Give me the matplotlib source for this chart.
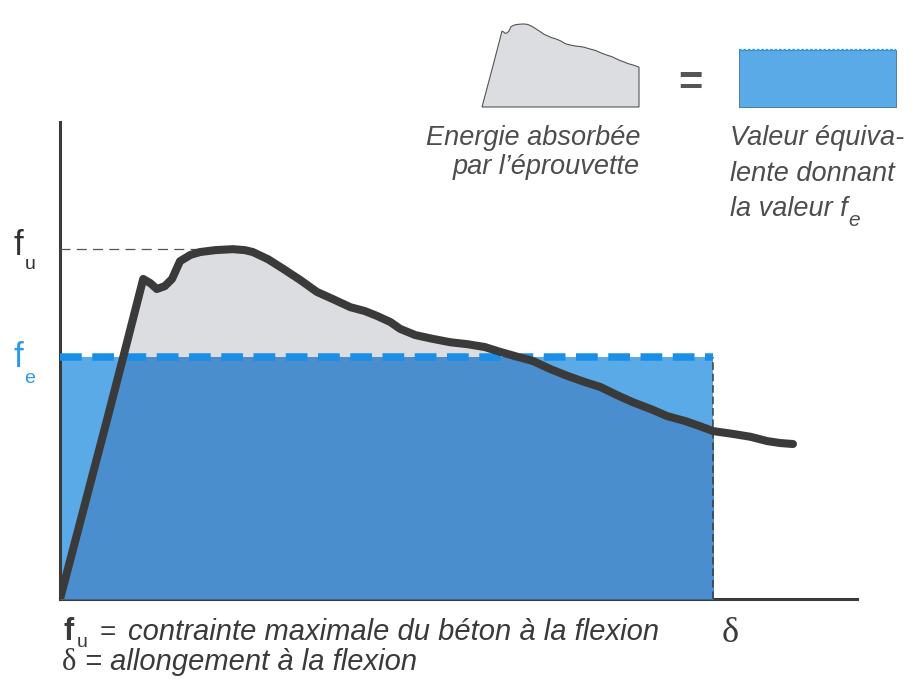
import numpy as np
import matplotlib
matplotlib.use("Agg")
import matplotlib.pyplot as plt
from matplotlib.patches import Rectangle

# courbe charge / fleche (unites arbitraires)
delta = [0.0, 0.59, 0.79, 1.04, 1.13, 1.21, 1.31, 1.40, 1.50, 1.63, 1.75, 1.94,
         2.16, 2.31, 2.41, 2.60, 2.79, 3.00, 3.21, 3.41, 3.63, 3.81, 3.96, 4.13,
         4.25, 4.44, 4.66, 4.88, 5.09, 5.31, 5.50, 5.69, 5.91, 6.13, 6.34, 6.56,
         6.75, 6.96, 7.16, 7.38, 7.59, 7.81, 8.00, 8.16, 8.41, 8.63, 8.84, 9.00, 9.16]
stress = [0.0, 3.75, 5.04, 6.67, 6.58, 6.46, 6.52, 6.67, 7.04, 7.17, 7.23, 7.27,
          7.29, 7.27, 7.23, 7.08, 6.88, 6.65, 6.40, 6.25, 6.08, 6.00, 5.90, 5.77,
          5.63, 5.50, 5.42, 5.35, 5.31, 5.25, 5.15, 5.06, 4.96, 4.79, 4.65, 4.52,
          4.42, 4.25, 4.10, 3.96, 3.81, 3.71, 3.60, 3.50, 3.44, 3.38, 3.29, 3.25, 3.23]
fu = 7.29
fe = 5.04
delta_end = 8.16
fu_line_end = 1.85

W, H = 923, 693
FONT = "Liberation Sans"

delta = np.array(delta)
stress = np.array(stress)
mask = delta <= delta_end

fig = plt.figure(figsize=(W / 100, H / 100), dpi=100)
fig.patch.set_facecolor("white")


def px(x, y):
    return x / W, 1 - y / H


def box(x0, y0, x1, y1):
    # rectangle en pixels (haut-gauche, bas-droite) -> coordonnees figure
    return [x0 / W, 1 - y1 / H, (x1 - x0) / W, (y1 - y0) / H]


gray = "#dcdde1"
blue_light = "#5aaae8"
blue_dark = "#4a8ecd"
blue_dash = "#1b8fe6"
ink = "#3a3a3a"

# --- graphique principal
ax = fig.add_axes(box(60, 122, 857, 599))
ax.set_xlim(0, 9.96)
ax.set_ylim(0, 9.94)
ax.set_facecolor("none")
for s in ["top", "right"]:
    ax.spines[s].set_visible(False)
for s in ["left", "bottom"]:
    ax.spines[s].set_linewidth(2.2)
    ax.spines[s].set_color(ink)
ax.set_xticks([])
ax.set_yticks([])

ax.fill_between(delta[mask], 0, stress[mask], color=gray, lw=0, zorder=1)
rect = Rectangle((0, 0), delta_end, fe, facecolor=blue_light, edgecolor="none", zorder=2)
ax.add_patch(rect)
dark = ax.fill_between(delta, 0, stress, color=blue_dark, lw=0, zorder=3)
dark.set_clip_path(rect)

ax.plot([delta_end, delta_end], [0, fe], color="#3c3c3c", lw=1.1,
        dashes=(5, 2.5), zorder=4)
fe_line, = ax.plot([0, delta_end], [fe, fe], color=blue_dash, lw=5.4,
                   solid_capstyle="butt", zorder=5)
fe_line.set_dashes([2.9, 1.4])
fe_line.set_dash_capstyle("butt")
ax.plot([0, fu_line_end], [fu, fu], color="#555555", lw=0.9, dashes=(8, 5), zorder=4)
ax.plot(delta, stress, color=ink, lw=5.8, solid_joinstyle="round",
        solid_capstyle="round", zorder=6)

# --- labels f_u / f_e
fig.text(*px(13, 255), "f", fontsize=25, family=FONT, color="#333333", va="baseline")
fig.text(*px(25, 269), "u", fontsize=14, family=FONT, color="#333333", va="baseline")
fig.text(*px(13, 367), "f", fontsize=25, family=FONT, color="#2a9be8", va="baseline")
fig.text(*px(24, 383), "e", fontsize=14, family=FONT, color="#2a9be8", va="baseline")

# --- icones en haut
ax_icon = fig.add_axes(box(482, 24, 639, 107))
ax_icon.set_xlim(0, delta_end)
ax_icon.set_ylim(0, fu)
ax_icon.axis("off")
xs = np.concatenate([delta[mask], [delta_end, 0]])
ys = np.concatenate([stress[mask], [0, 0]])
ax_icon.fill(xs, ys, facecolor=gray, edgecolor="#555555", lw=0.8, clip_on=False)

ax_rect = fig.add_axes(box(739, 24, 896, 107))
ax_rect.set_xlim(0, delta_end)
ax_rect.set_ylim(0, fu)
ax_rect.axis("off")
ax_rect.add_patch(Rectangle((0, 0), delta_end, fe, facecolor=blue_light,
                            edgecolor="#3d6f9a", lw=0.6, clip_on=False))
top_line, = ax_rect.plot([0, delta_end], [fe, fe], color="#2a9be8", lw=1.6,
                         clip_on=False)
top_line.set_dashes([1.2, 0.8])

fig.text(*px(690, 95), "=", fontsize=30, family=FONT, fontweight="bold",
         color="#555555", ha="center", va="baseline")

tcol = "#4d4d4d"
tsize = 19.5
fig.text(*px(640, 145), "Energie absorbée", fontsize=tsize, family=FONT,
         style="italic", color=tcol, ha="right", va="baseline")
fig.text(*px(640, 174), "par l\u2019éprouvette", fontsize=tsize, family=FONT,
         style="italic", color=tcol, ha="right", va="baseline")
fig.text(*px(730, 145), "Valeur équiva-", fontsize=tsize, family=FONT,
         style="italic", color=tcol, va="baseline")
fig.text(*px(730, 181), "lente donnant", fontsize=tsize, family=FONT,
         style="italic", color=tcol, va="baseline")
t = fig.text(*px(730, 216), "la valeur f", fontsize=tsize, family=FONT,
             style="italic", color=tcol, va="baseline")
fig.canvas.draw()
x_end = t.get_window_extent().x1
fig.text(x_end / W + 0.001, 1 - 226 / H, "e", fontsize=15, family=FONT,
         style="italic", color=tcol, va="baseline")

# --- legende du bas
fig.text(*px(64, 640), "f", fontsize=22, family=FONT, fontweight="bold",
         color=ink, va="baseline")
fig.text(*px(77, 647), "u", fontsize=14, family=FONT, color=ink, va="baseline")
fig.text(*px(100, 640), "=", fontsize=20, family=FONT, color=ink, va="baseline")
fig.text(*px(128, 640), "contrainte maximale du béton à la flexion", fontsize=21,
         family=FONT, style="italic", color=ink, va="baseline")
fig.text(*px(722, 642), "δ", fontsize=26, family="Liberation Serif", color=ink,
         va="baseline")
fig.text(*px(62, 670), "δ", fontsize=22, family="Liberation Serif", color=ink,
         va="baseline")
fig.text(*px(85, 670), "= allongement à la flexion", fontsize=21, family=FONT,
         style="italic", color=ink, va="baseline")

fig.savefig("out.png", dpi=100, facecolor="white")
